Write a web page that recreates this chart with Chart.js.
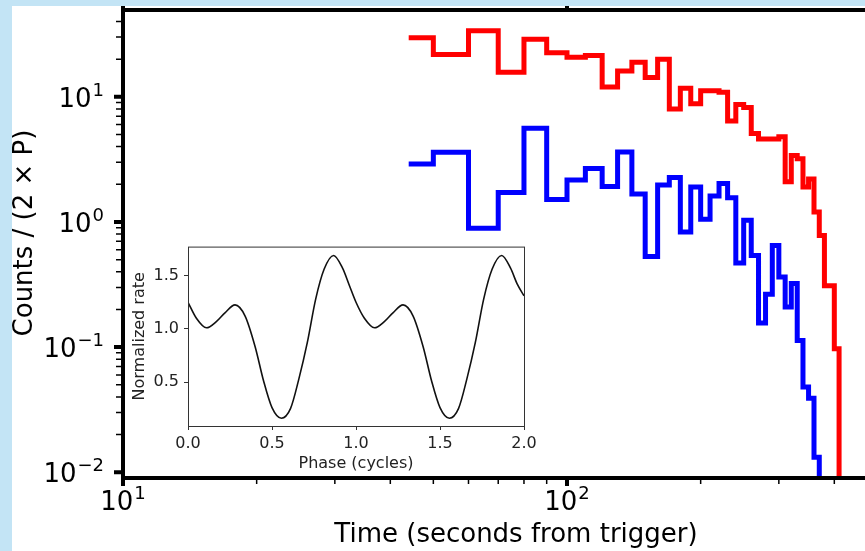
<!DOCTYPE html>
<html>
<head>
<meta charset="utf-8">
<script src="https://cdn.jsdelivr.net/npm/chart.js@4.4.1/dist/chart.umd.min.js"></script>
<style>
  html, body { margin: 0; padding: 0; width: 865px; height: 551px; overflow: hidden; background: #c3e4f5; }
  #main { position: absolute; left: 12px; top: 6px; width: 853px; height: 545px; background: #fff; }
  #inset { position: absolute; left: 125px; top: 232px; width: 420px; height: 245px; }
</style>
</head>
<body>
<div id="main"><canvas id="lc" width="853" height="545"></canvas></div>
<div id="inset"><canvas id="pc" width="420" height="245"></canvas></div>
<script>
// bin edges (seconds from trigger), shared by both light curves
const binEdges = [44, 50, 60, 70, 80, 90, 100, 110, 120, 130, 140, 150, 160, 170, 180, 190,
  200, 210, 220, 230, 240, 250, 260, 270, 280, 290, 300, 310, 320, 330, 340, 350, 360, 370,
  380, 390, 400, 410];

// counts per bin (one value per bin)
const redCounts = [29.6, 21.8, 33.7, 15.7, 28.8, 22.5, 20.7, 21.4, 12.0, 16.1, 18.9, 14.3,
  20.0, 8.0, 11.7, 8.8, 11.2, 11.2, 10.9, 6.4, 8.7, 8.2, 5.1, 4.6, 4.6, 4.6, 4.8, 2.1, 3.4,
  3.2, 1.9, 2.2, 1.2, 0.78, 0.31, 0.31, 0.097];
const blueCounts = [2.9, 3.6, 0.89, 1.72, 5.6, 1.51, 2.16, 2.68, 1.92, 3.63, 1.67, 0.53,
  1.97, 2.27, 0.83, 1.9, 1.05, 1.61, 2.03, 1.56, 0.47, 1.03, 0.54, 0.156, 0.264, 0.65,
  0.363, 0.209, 0.322, 0.113, 0.048, 0.039, 0.0132];

// axis ticks of the main panel
const xTickVals = [10, 100];
const xTickExps = ['1', '2'];
const yTickVals = [0.01, 0.1, 1, 10];
const yTickExps = ['\u22122', '\u22121', '0', '1'];

// inset: folded pulse profile
const phase = [0, 0.05, 0.11, 0.17, 0.22, 0.28, 0.34, 0.40, 0.45, 0.50, 0.556, 0.61, 0.66,
  0.71, 0.76, 0.81, 0.867, 0.92, 0.96, 1.0, 1.05, 1.11, 1.17, 1.22, 1.28, 1.34, 1.40, 1.45,
  1.50, 1.556, 1.61, 1.66, 1.71, 1.76, 1.81, 1.867, 1.92, 1.96, 2.0];
const rate = [1.25, 1.10, 1.01, 1.07, 1.15, 1.225, 1.12, 0.83, 0.51, 0.26, 0.16, 0.25, 0.53,
  0.87, 1.28, 1.56, 1.69, 1.57, 1.41, 1.25, 1.10, 1.01, 1.07, 1.15, 1.225, 1.12, 0.83, 0.51,
  0.26, 0.16, 0.25, 0.53, 0.87, 1.28, 1.56, 1.69, 1.57, 1.42, 1.31];

const FONT = '"DejaVu Sans", sans-serif';
const EMPTY = 1e-6; // zero counts sit far below the log axis, so the outline drops off the plot

// histogram outline: each point is a bin's left edge, last point drops out of the plot
function stepPoints(vals) {
  const pts = vals.map((v, i) => ({ x: binEdges[i], y: v }));
  pts.push({ x: binEdges[vals.length], y: EMPTY });
  return pts;
}

const yMinor = [];
yTickVals.forEach(d => { for (let k = 2; k <= 9; k++) yMinor.push(d * k); });
const xMinor = [];
xTickVals.forEach(d => { for (let k = 2; k <= 9; k++) xMinor.push(d * k); });

function drawPow(ctx, exp, x, y, align) {
  ctx.font = '26px ' + FONT;
  const wb = ctx.measureText('10').width;
  ctx.font = '18px ' + FONT;
  const we = ctx.measureText(exp).width;
  const total = wb + 1 + we;
  const x0 = align === 'right' ? x - total : x - total / 2;
  ctx.textAlign = 'left';
  ctx.textBaseline = 'alphabetic';
  ctx.font = '26px ' + FONT;
  ctx.fillText('10', x0, y);
  ctx.font = '18px ' + FONT;
  ctx.fillText(exp, x0 + wb + 1, y - 11);
}

const mainAxes = {
  id: 'mainAxes',
  afterDraw(chart) {
    const { ctx, chartArea: a } = chart;
    const xs = chart.scales.x, ys = chart.scales.y;
    ctx.save();
    ctx.strokeStyle = '#000';
    ctx.fillStyle = '#000';

    // minor ticks
    ctx.lineWidth = 1.5;
    ctx.beginPath();
    yMinor.forEach(v => {
      if (v < ys.min || v > ys.max) return;
      const p = ys.getPixelForValue(v);
      ctx.moveTo(a.left - 7, p); ctx.lineTo(a.left, p);
    });
    xMinor.forEach(v => {
      if (v < xs.min || v > xs.max) return;
      const p = xs.getPixelForValue(v);
      ctx.moveTo(p, a.bottom); ctx.lineTo(p, a.bottom + 6);
    });
    ctx.stroke();

    // major ticks
    ctx.lineWidth = 4;
    ctx.beginPath();
    yTickVals.forEach(v => {
      const p = ys.getPixelForValue(v);
      ctx.moveTo(a.left - 9, p); ctx.lineTo(a.left, p);
    });
    xTickVals.forEach(v => {
      const p = xs.getPixelForValue(v);
      ctx.moveTo(p, a.bottom); ctx.lineTo(p, a.bottom + 8);
      ctx.moveTo(p, a.top); ctx.lineTo(p, a.top - 6);
    });
    ctx.stroke();

    // spines
    ctx.lineWidth = 4;
    ctx.lineCap = 'square';
    ctx.beginPath();
    ctx.moveTo(a.right + 5, a.top);
    ctx.lineTo(a.left, a.top);
    ctx.lineTo(a.left, a.bottom);
    ctx.lineTo(a.right + 5, a.bottom);
    ctx.stroke();

    // tick labels
    yTickVals.forEach((v, i) => drawPow(ctx, yTickExps[i], a.left - 19, ys.getPixelForValue(v) + 10, 'right'));
    xTickVals.forEach((v, i) => drawPow(ctx, xTickExps[i], xs.getPixelForValue(v), a.bottom + 32, 'center'));

    // axis titles
    ctx.font = '26px ' + FONT;
    ctx.textAlign = 'center';
    ctx.textBaseline = 'alphabetic';
    ctx.fillText('Time (seconds from trigger)', 504, 536);
    ctx.save();
    ctx.translate(13, 227);
    ctx.rotate(-Math.PI / 2);
    ctx.textBaseline = 'middle';
    ctx.fillText('Counts / (2 \u00d7 P)', 0, 0);
    ctx.restore();
    ctx.restore();
  }
};

new Chart(document.getElementById('lc'), {
  type: 'line',
  data: {
    datasets: [
      { data: stepPoints(blueCounts), borderColor: '#0000ff', borderWidth: 5, stepped: 'before',
        pointRadius: 0, fill: false, borderJoinStyle: 'miter' },
      { data: stepPoints(redCounts), borderColor: '#ff0000', borderWidth: 5, stepped: 'before',
        pointRadius: 0, fill: false, borderJoinStyle: 'miter' }
    ]
  },
  options: {
    responsive: false,
    animation: false,
    layout: { padding: { top: 4, right: 0, left: 0, bottom: 0 } },
    plugins: { legend: { display: false }, tooltip: { enabled: false } },
    scales: {
      x: { type: 'logarithmic', min: 10, max: 469,
        ticks: { display: false }, grid: { display: false }, border: { display: false },
        afterFit(s) { s.height = 73; } },
      y: { type: 'logarithmic', min: 0.009, max: 49.4,
        ticks: { display: false }, grid: { display: false }, border: { display: false },
        afterFit(s) { s.width = 111; } }
    }
  },
  plugins: [mainAxes]
});

// inset: white face and thin frame
const insetFrame = {
  id: 'insetFrame',
  beforeDraw(chart) {
    const { ctx, chartArea: a } = chart;
    ctx.save();
    ctx.fillStyle = '#fff';
    ctx.fillRect(a.left, a.top, a.right - a.left, a.bottom - a.top);
    ctx.restore();
  },
  afterDraw(chart) {
    const { ctx, chartArea: a } = chart;
    ctx.save();
    ctx.strokeStyle = '#333';
    ctx.lineWidth = 1;
    ctx.strokeRect(a.left + 0.5, a.top + 0.5, a.right - a.left, a.bottom - a.top);
    ctx.restore();
  }
};

const insetTick = { size: 16, family: FONT };
new Chart(document.getElementById('pc'), {
  type: 'line',
  data: {
    datasets: [{
      data: phase.map((p, i) => ({ x: p, y: rate[i] })),
      borderColor: '#111', borderWidth: 1.6, pointRadius: 0, fill: false,
      cubicInterpolationMode: 'monotone'
    }]
  },
  options: {
    responsive: false,
    animation: false,
    layout: { padding: { top: 6, right: 21, left: 0, bottom: 0 } },
    plugins: { legend: { display: false }, tooltip: { enabled: false } },
    scales: {
      x: { type: 'linear', min: 0, max: 2,
        ticks: { stepSize: 0.5, callback: v => v.toFixed(1), font: insetTick, color: '#222',
          padding: 4, maxRotation: 0 },
        grid: { drawOnChartArea: false, tickLength: 4, color: '#333' },
        border: { display: false },
        title: { display: true, text: 'Phase (cycles)', font: insetTick, color: '#222',
          padding: { top: 0, bottom: 4 } },
        afterFit(s) { s.height = 51; } },
      y: { type: 'linear', min: 0.087, max: 1.773,
        ticks: { stepSize: 0.5, includeBounds: false, callback: v => v.toFixed(1), font: insetTick,
          color: '#222', padding: 5 },
        grid: { drawOnChartArea: false, tickLength: 4, color: '#333' },
        border: { display: false },
        title: { display: true, text: 'Normalized rate', font: insetTick, color: '#222',
          padding: { top: 5, bottom: 0 } },
        afterFit(s) { s.width = 63; } }
    }
  },
  plugins: [insetFrame]
});
</script>
</body>
</html>
